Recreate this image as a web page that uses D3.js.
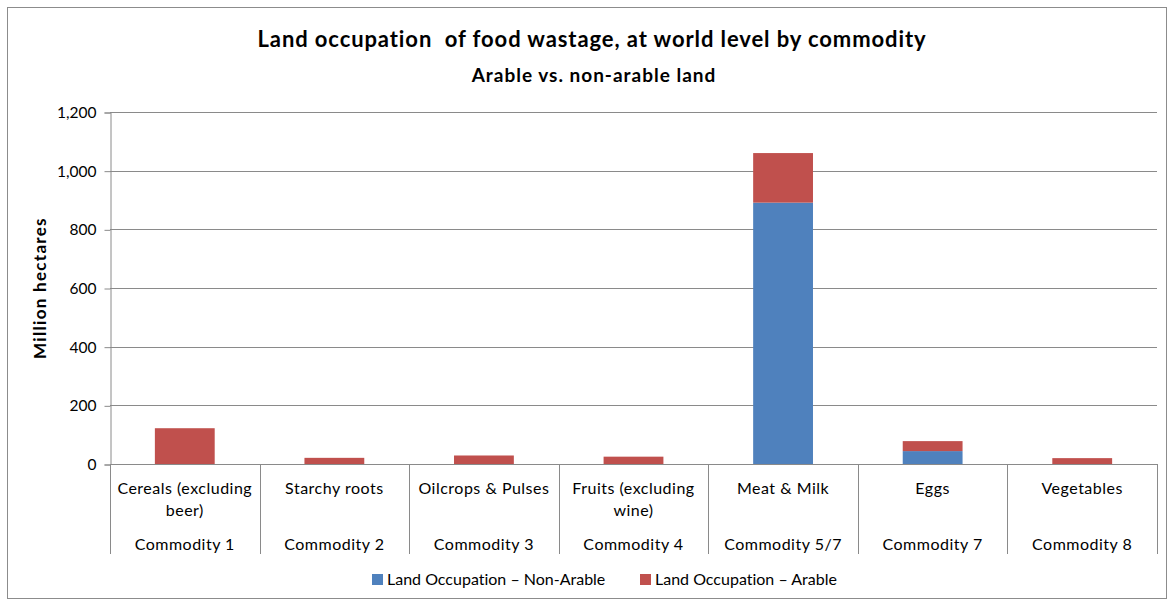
<!DOCTYPE html>
<html>
<head>
<meta charset="utf-8">
<script src="https://cdn.jsdelivr.net/npm/d3@7"></script>
<style>
  html, body { margin: 0; padding: 0; background: #fff; }
  svg { display: block; font-family: Lato, "Noto Sans", sans-serif; font-variant-ligatures: none; }
</style>
</head>
<body>
<svg id="chart" width="1169" height="599"></svg>
<script>
// Land occupation of food wastage by commodity (million hectares)
const categories = ["Cereals (excluding beer)", "Starchy roots", "Oilcrops & Pulses", "Fruits (excluding wine)", "Meat & Milk", "Eggs", "Vegetables"];
const commodityGroups = ["Commodity 1", "Commodity 2", "Commodity 3", "Commodity 4", "Commodity 5/7", "Commodity 7", "Commodity 8"];
const nonArable = [0, 0, 0, 0, 891, 44, 0];
const arable = [122, 21, 29, 25, 169, 34, 20];
const seriesNames = ["Land Occupation \u2013 Non-Arable", "Land Occupation \u2013 Arable"];
const yTicks = [0, 200, 400, 600, 800, 1000, 1200];

const colors = ["#4F81BD", "#C0504D"];
const svg = d3.select("#chart");
const W = 1169, H = 599;
const plotLeft = 110, plotRight = 1157, plotTop = 112, plotBottom = 464;

// Chart area frame
svg.append("rect")
  .attr("x", 7.5).attr("y", 7.5)
  .attr("width", W - 10).attr("height", H - 8)
  .attr("fill", "#fff").attr("stroke", "#8c8c8c").attr("stroke-width", 1);

// Titles
svg.append("text")
  .attr("x", 592).attr("y", 47)
  .attr("text-anchor", "middle")
  .attr("font-size", 22).attr("font-weight", "bold").attr("fill", "#000")
  .attr("letter-spacing", 0.9)
  .style("white-space", "pre")
  .text("Land occupation  of food wastage, at world level by commodity");
svg.append("text")
  .attr("x", 594).attr("y", 82)
  .attr("text-anchor", "middle")
  .attr("font-size", 19).attr("font-weight", "bold").attr("fill", "#000")
  .attr("letter-spacing", 1)
  .text("Arable vs. non-arable land");

const x = d3.scaleBand().domain(categories).range([plotLeft, plotRight]).paddingInner(0).paddingOuter(0);
const y = d3.scaleLinear().domain([0, 1200]).range([plotBottom, plotTop]);

// Gridlines
svg.append("g").selectAll("line")
  .data(yTicks.filter(t => t > 0))
  .join("line")
  .attr("x1", plotLeft).attr("x2", plotRight)
  .attr("y1", d => Math.round(y(d)) + 0.5).attr("y2", d => Math.round(y(d)) + 0.5)
  .attr("stroke", "#8a8a8a").attr("stroke-width", 1);

// Y axis
const yAxis = d3.axisLeft(y).tickValues(yTicks).tickSize(6).tickPadding(8)
  .tickFormat(d3.format(","));
const gy = svg.append("g").attr("transform", `translate(${plotLeft + 0.5},0.5)`).call(yAxis);
gy.select(".domain").attr("stroke", "#8a8a8a");
gy.selectAll(".tick line").attr("stroke", "#8a8a8a");
gy.selectAll(".tick text").attr("font-size", 15.5).attr("fill", "#000")
  .attr("font-family", "Lato, 'Noto Sans', sans-serif");

// Y axis title
svg.append("text")
  .attr("transform", `translate(46,${(plotTop + plotBottom) / 2}) rotate(-90)`)
  .attr("text-anchor", "middle")
  .attr("font-size", 17).attr("font-weight", "bold").attr("fill", "#000")
  .attr("letter-spacing", 1.3)
  .text("Million hectares");

// Stacked bars
const rows = categories.map((c, i) => ({ cat: c, nonArable: nonArable[i], arable: arable[i] }));
const stack = d3.stack().keys(["nonArable", "arable"]);
const layers = stack(rows);
const barW = x.bandwidth() * 0.4;
svg.append("g").selectAll("g")
  .data(layers)
  .join("g")
  .attr("fill", (d, i) => colors[i])
  .selectAll("rect")
  .data(d => d)
  .join("rect")
  .attr("x", d => x(d.data.cat) + (x.bandwidth() - barW) / 2)
  .attr("width", barW)
  .attr("y", d => y(d[1]))
  .attr("height", d => y(d[0]) - y(d[1]));

// X axis line and category separators
const catAxisBottom = 554;
svg.append("line")
  .attr("x1", plotLeft).attr("x2", plotRight)
  .attr("y1", plotBottom + 0.5).attr("y2", plotBottom + 0.5)
  .attr("stroke", "#8a8a8a");
const bounds = categories.map(c => x(c)).concat([plotRight]);
svg.append("g").selectAll("line")
  .data(bounds)
  .join("line")
  .attr("x1", d => Math.round(d) + 0.5).attr("x2", d => Math.round(d) + 0.5)
  .attr("y1", plotBottom).attr("y2", catAxisBottom)
  .attr("stroke", "#8a8a8a");

// Category labels (wrapped to band width)
const catLines = categories.map(c => {
  if (c === "Cereals (excluding beer)") return ["Cereals (excluding", "beer)"];
  if (c === "Fruits (excluding wine)") return ["Fruits (excluding", "wine)"];
  return [c];
});
const catG = svg.append("g").attr("font-size", 16).attr("letter-spacing", 0.5).attr("fill", "#000");
categories.forEach((c, i) => {
  const cx = x(c) + x.bandwidth() / 2;
  catLines[i].forEach((line, j) => {
    catG.append("text")
      .attr("x", cx).attr("y", 494 + j * 22)
      .attr("text-anchor", "middle")
      .text(line);
  });
  catG.append("text")
    .attr("x", cx).attr("y", 550)
    .attr("text-anchor", "middle")
    .text(commodityGroups[i]);
});

// Legend
const legendItems = [{ name: seriesNames[0], color: colors[0], x: 372 }, { name: seriesNames[1], color: colors[1], x: 640 }];
const lg = svg.append("g");
legendItems.forEach(it => {
  lg.append("rect").attr("x", it.x).attr("y", 574).attr("width", 11).attr("height", 11).attr("fill", it.color);
  lg.append("text").attr("x", it.x + 15).attr("y", 585).attr("font-size", 16).attr("fill", "#000").text(it.name);
});
</script>
</body>
</html>
